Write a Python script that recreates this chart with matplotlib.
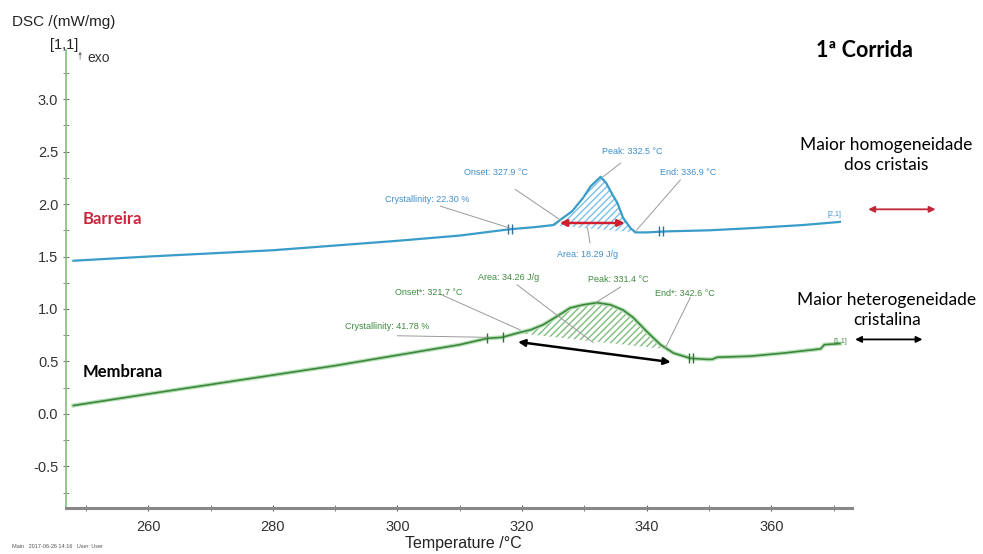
import matplotlib
matplotlib.use("Agg")
import matplotlib.pyplot as plt
import numpy as np

plt.rcParams['font.family'] = ['Liberation Sans', 'DejaVu Sans']
plt.rcParams['axes.unicode_minus'] = False

# Barreira (blue) DSC curve
barreira_T = [248, 260, 280, 300, 310, 318, 322, 325, 326.6, 328, 329.8, 331,
              332.6, 333.5, 334.5, 335.3, 336.2, 337.4, 338.2, 340, 343.3, 350,
              356.6, 365, 371]
barreira_dsc = [1.46, 1.50, 1.56, 1.65, 1.70, 1.76, 1.78, 1.80, 1.87, 1.93, 2.06,
                2.17, 2.26, 2.20, 2.09, 2.01, 1.87, 1.77, 1.73, 1.73, 1.74, 1.75,
                1.77, 1.80, 1.83]

# Membrana (green) DSC curve
membrana_T = [248, 260, 270, 280, 290, 300, 310, 314.4, 316.8, 319.2, 321.3, 323.4,
              325.6, 327.7, 329.8, 332.0, 334.2, 336.2, 337.8, 340.1, 342.2, 344.3,
              347.0, 349.7, 350.5, 351.3, 356.6, 362, 367.9, 368.5, 371]
membrana_dsc = [0.08, 0.19, 0.28, 0.37, 0.46, 0.56, 0.66, 0.72, 0.73, 0.77, 0.80, 0.85,
                0.93, 1.01, 1.04, 1.06, 1.04, 0.99, 0.92, 0.78, 0.66, 0.58,
                0.53, 0.52, 0.52, 0.54, 0.55, 0.58, 0.62, 0.66, 0.67]

# integration baselines (start, end)
barreira_base_T = [324.5, 338.2]
barreira_base = [1.80, 1.73]
membrana_base_T = [319.2, 342.7]
membrana_base = [0.77, 0.62]

blue = "#3a9cc8"
green = "#3c873c"
blue_txt = "#3f8fcc"
green_txt = "#3e8a3e"

fig = plt.figure(figsize=(9.83, 5.54), dpi=100)
ax = fig.add_axes([0.0671, 0.083, 0.80, 0.827])

ax.plot(barreira_T, barreira_dsc, color=blue, lw=1.6)
ax.plot(membrana_T, membrana_dsc, color="#b8e0b8", lw=3.0)
ax.plot(membrana_T, membrana_dsc, color=green, lw=1.2)

# hatched peak areas
bT = np.array(barreira_T)
bD = np.array(barreira_dsc)
m = (bT >= barreira_base_T[0]) & (bT <= barreira_base_T[1])
bx = np.concatenate([[barreira_base_T[0]], bT[m], [barreira_base_T[1]]])
by = np.concatenate([[barreira_base[0]], bD[m], [barreira_base[1]]])
ax.fill(bx, by, facecolor="none", edgecolor="#7cc0e8", hatch="/////", lw=0)

mT = np.array(membrana_T)
mD = np.array(membrana_dsc)
m = (mT >= membrana_base_T[0]) & (mT <= membrana_base_T[1])
gx = np.concatenate([[membrana_base_T[0]], mT[m], [membrana_base_T[1]]])
gy = np.concatenate([[membrana_base[0]], mD[m], [membrana_base[1]]])
ax.fill(gx, gy, facecolor="none", edgecolor="#7fbf7f", hatch="/////", lw=0)

# small evaluation markers on the curves
for t, v in [(317.7, 1.76), (318.4, 1.76), (342.0, 1.74), (342.6, 1.74)]:
    ax.plot(t, v, marker="|", ms=7, color="#2f6f9f", mew=1)
for t, v in [(314.4, 0.72), (317.0, 0.73), (346.8, 0.53), (347.5, 0.53)]:
    ax.plot(t, v, marker="|", ms=7, color="#2f6f2f", mew=1)

# annotation labels with leader lines
blue_notes = [
    ("Crystallinity: 22.30 %", (298.0, 2.04), (306.9, 1.98), (318.1, 1.77)),
    ("Onset: 327.9 °C", (310.6, 2.30), (318.9, 2.14), (326.1, 1.85)),
    ("Peak: 332.5 °C", (332.9, 2.50), (335.8, 2.39), (333.0, 2.26)),
    ("End: 336.9 °C", (342.2, 2.30), (345.4, 2.23), (338.2, 1.74)),
    ("Area: 18.29 J/g", (325.6, 1.52), (330.9, 1.63), (330.5, 1.77)),
]
green_notes = [
    ("Crystallinity: 41.78 %", (291.6, 0.83), (300.0, 0.745), (314.4, 0.73)),
    ("Onset*: 321.7 °C", (299.6, 1.16), (306.9, 1.14), (319.7, 0.80)),
    ("Area: 34.26 J/g", (313.0, 1.30), (319.2, 1.23), (331.4, 0.68)),
    ("Peak: 331.4 °C", (330.5, 1.28), (335.8, 1.21), (331.8, 1.06)),
    ("End*: 342.6 °C", (341.4, 1.15), (347.0, 1.11), (343.0, 0.63)),
]
for notes, col in [(blue_notes, blue_txt), (green_notes, green_txt)]:
    for label, tpos, p0, p1 in notes:
        ax.text(tpos[0], tpos[1], label, fontsize=6.5, color=col, va="center", ha="left")
        ax.plot([p0[0], p1[0]], [p0[1], p1[1]], color="#9a9a9a", lw=0.7)

ax.text(369.0, 1.90, "[2,1]", fontsize=5, color=blue_txt, va="center")
ax.text(370.0, 0.69, "[1,1]", fontsize=5, color=green_txt, va="center")

# double arrows
ax.annotate("", xy=(336.9, 1.82), xytext=(325.6, 1.82),
            arrowprops=dict(arrowstyle="<|-|>", color="#d02030", lw=1.8, mutation_scale=10))
ax.annotate("", xy=(344.3, 0.49), xytext=(318.9, 0.69),
            arrowprops=dict(arrowstyle="<|-|>", color="black", lw=1.8, mutation_scale=10))
ax.annotate("", xy=(386.8, 1.95), xytext=(375.1, 1.95), annotation_clip=False,
            arrowprops=dict(arrowstyle="<|-|>", color="#c0283a", lw=1.3, mutation_scale=9))
ax.annotate("", xy=(384.7, 0.71), xytext=(373.0, 0.71), annotation_clip=False,
            arrowprops=dict(arrowstyle="<|-|>", color="black", lw=1.3, mutation_scale=9))

# labels of the samples
ax.text(249.5, 1.86, "Barreira", fontsize=12, fontweight="bold", color="#c8283c",
        family="Lato", va="center")
ax.text(249.5, 0.40, "Membrana", fontsize=12, fontweight="bold", color="black",
        family="Lato", va="center")

fig.text(0.879, 0.909, "1ª Corrida", fontsize=15.5, fontweight="bold", family="Lato",
         ha="center", va="center")
fig.text(0.902, 0.720, "Maior homogeneidade\ndos cristais", fontsize=12.5, family="Lato",
         ha="center", va="center", linespacing=1.3)
fig.text(0.902, 0.441, "Maior heterogeneidade\ncristalina", fontsize=12.5, family="Lato",
         ha="center", va="center", linespacing=1.3)

# axes
ax.set_xlim(246.8, 373)
ax.set_ylim(-0.897, 3.47)
ax.set_xticks([260, 280, 300, 320, 340, 360])
ax.set_xticks(np.arange(250, 371, 10), minor=True)
ax.set_yticks([-0.5, 0.0, 0.5, 1.0, 1.5, 2.0, 2.5, 3.0])
ax.set_yticks(np.arange(-0.75, 3.3, 0.25), minor=True)
ax.tick_params(axis="both", which="both", direction="inout", labelsize=10.5,
               labelcolor="#333333")
ax.tick_params(axis="x", which="major", length=5, color="#666666", pad=6)
ax.tick_params(axis="x", which="minor", length=4, color="#666666")
ax.tick_params(axis="y", which="major", length=5, color="#777777", pad=3)
ax.tick_params(axis="y", which="minor", length=4, color="#777777")
for s in ["top", "right"]:
    ax.spines[s].set_visible(False)
ax.spines["left"].set_color("#7fbf7f")
ax.spines["left"].set_linewidth(1.2)
ax.spines["bottom"].set_color("#888888")
ax.spines["bottom"].set_linewidth(2.2)

ax.set_xlabel("Temperature /°C", fontsize=11.5, color="#222222", labelpad=0)
ax.xaxis.set_label_coords(0.505, -0.062)
fig.text(0.012, 0.960, "DSC /(mW/mg)", fontsize=11, color="#222222", va="center")
fig.text(0.051, 0.918, "[1,1]", fontsize=10.5, color="#222222", va="center")
fig.text(0.089, 0.895, "exo", fontsize=10, color="#333333", va="center")
ax.annotate("", xy=(0.0815, 0.912), xytext=(0.0815, 0.888), xycoords="figure fraction",
            arrowprops=dict(arrowstyle="-|>", color="#777777", lw=0.6, mutation_scale=4))
fig.text(0.012, 0.011, "Main   2017-06-26 14:16   User: User", fontsize=4, color="#555555")

fig.savefig("out.png", dpi=100)
